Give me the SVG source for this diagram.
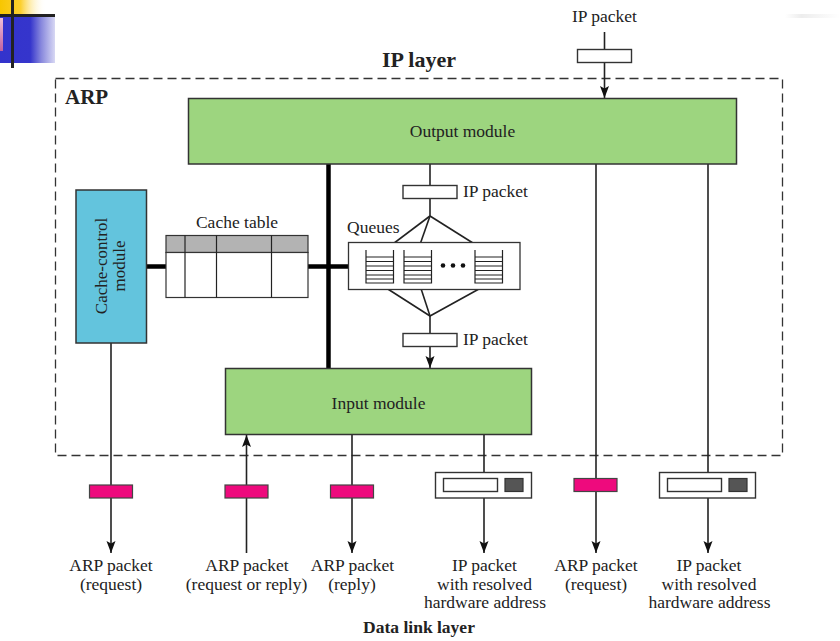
<svg xmlns="http://www.w3.org/2000/svg" width="840" height="641" viewBox="0 0 840 641">
<style>
  text { font-family: "Liberation Serif", "Times New Roman", serif; fill: #222; }
  .lbl { font-size: 17.5px; }
  .mid { text-anchor: middle; }
  .bold { font-weight: bold; }
  .module { stroke: #333; stroke-width: 1.5; }
  .green { fill: #9DD57F; }
  .blue { fill: #63C4DD; }
  .line { stroke: #222; stroke-width: 1.6; fill: none; }
  .thick { stroke: #000; stroke-width: 4.5; fill: none; }
  .pkt { fill: #fff; stroke: #333; stroke-width: 1.4; }
  .pink { fill: #EE0A7D; stroke: #444; stroke-width: 1.2; }
  .dark { fill: #555; stroke: #333; stroke-width: 1.2; }
  .q { stroke: #222; stroke-width: 1.2; fill: none; }
</style>
<defs>
  <marker id="arr" markerUnits="userSpaceOnUse" markerWidth="13" markerHeight="10" refX="12" refY="4.5" orient="auto">
    <path d="M0,0 L12,4.5 L0,9 L2.5,4.5 z" fill="#111"/>
  </marker>
  <marker id="arrs" markerUnits="userSpaceOnUse" markerWidth="11" markerHeight="9" refX="10" refY="4" orient="auto">
    <path d="M0,0 L10,4 L0,8 L2,4 z" fill="#111"/>
  </marker>
  <linearGradient id="gy" x1="0" x2="1" y1="0" y2="0">
    <stop offset="0" stop-color="#F7C600"/>
    <stop offset="0.45" stop-color="#FCD030"/>
    <stop offset="1" stop-color="#FFFFFF" stop-opacity="0"/>
  </linearGradient>
  <linearGradient id="gb" x1="0" x2="1" y1="0" y2="0">
    <stop offset="0" stop-color="#3333CC"/>
    <stop offset="0.55" stop-color="#3535CC"/>
    <stop offset="0.75" stop-color="#8888DD"/>
    <stop offset="1" stop-color="#D8D8F4"/>
  </linearGradient>
  <linearGradient id="gp" x1="0" x2="0" y1="0" y2="1">
    <stop offset="0" stop-color="#F0C0D8"/>
    <stop offset="1" stop-color="#C060A0"/>
  </linearGradient>
  <linearGradient id="gg" x1="0" x2="1" y1="0" y2="0">
    <stop offset="0" stop-color="#FFFFFF"/>
    <stop offset="0.3" stop-color="#EDEDED"/>
    <stop offset="1" stop-color="#FFFFFF"/>
  </linearGradient>
</defs>

<!-- slide decoration -->
<g id="decoration">
  <rect x="0" y="0" width="46" height="15" fill="url(#gy)"/>
  <rect x="0" y="17" width="55" height="46" fill="url(#gb)"/>
  <rect x="0" y="18" width="3" height="33" fill="url(#gp)"/>
  <line x1="0" y1="15.5" x2="55" y2="15.5" stroke="#222" stroke-width="3"/>
  <line x1="12.5" y1="0" x2="12.5" y2="68" stroke="#222" stroke-width="3"/>
  <rect x="785" y="14" width="55" height="4" fill="url(#gg)"/>
</g>

<!-- layer labels -->
<g id="labels">
  <text class="bold mid" x="419" y="67" font-size="22">IP layer</text>
  <text class="bold" x="65" y="104" font-size="21">ARP</text>
  <text class="bold mid" x="419" y="633" font-size="17.5">Data link layer</text>
</g>

<!-- ARP boundary -->
<g id="arp-boundary">
  <rect x="55.5" y="78.5" width="727" height="377" fill="none" stroke="#333" stroke-width="1.3" stroke-dasharray="9,5"/>
</g>

<!-- connectors -->
<g id="connectors">
  <line class="line" x1="604.5" y1="32" x2="604.5" y2="98" marker-end="url(#arr)"/>
  <line class="thick" x1="328.5" y1="164" x2="328.5" y2="368"/>
  <line class="thick" x1="146" y1="266.5" x2="166" y2="266.5"/>
  <line class="thick" x1="308" y1="266.5" x2="348" y2="266.5"/>
  <line class="line" x1="430" y1="164" x2="430" y2="216"/>
  <line class="line" x1="430" y1="216" x2="377" y2="256" marker-end="url(#arrs)"/>
  <line class="line" x1="430" y1="216" x2="417" y2="253" marker-end="url(#arrs)"/>
  <line class="line" x1="430" y1="216" x2="492" y2="255" marker-end="url(#arrs)"/>
  <polyline class="line" points="380,284 430,316 488,284"/>
  <line class="line" x1="419.5" y1="284" x2="430" y2="316"/>
  <line class="line" x1="430" y1="316" x2="430" y2="368" marker-end="url(#arr)"/>
  <line class="line" x1="111" y1="343" x2="111" y2="553" marker-end="url(#arr)"/>
  <line class="line" x1="246.5" y1="553" x2="246.5" y2="435" marker-end="url(#arr)"/>
  <line class="line" x1="352" y1="434" x2="352" y2="553" marker-end="url(#arr)"/>
  <line class="line" x1="484" y1="434" x2="484" y2="553" marker-end="url(#arr)"/>
  <line class="line" x1="596" y1="164" x2="596" y2="553" marker-end="url(#arr)"/>
  <line class="line" x1="708" y1="164" x2="708" y2="553" marker-end="url(#arr)"/>
</g>

<!-- packets on connectors -->
<g id="packets">
  <rect class="pkt" x="577.5" y="49.5" width="54" height="13"/>
  <rect class="pkt" x="403" y="185.5" width="54" height="13"/>
  <rect class="pkt" x="403" y="333.5" width="54" height="13"/>
  <rect class="pink" x="89.5" y="485" width="43" height="13"/>
  <rect class="pink" x="225" y="485" width="43" height="13"/>
  <rect class="pink" x="330.5" y="485" width="43" height="13"/>
  <rect class="pink" x="574" y="478.5" width="43" height="13"/>
  <g>
    <rect class="pkt" x="435.5" y="472.5" width="96" height="25.5"/>
    <rect class="pkt" x="443.5" y="478.5" width="54" height="13"/>
    <rect class="dark" x="505" y="478.5" width="18" height="13"/>
  </g>
  <g>
    <rect class="pkt" x="659.5" y="472.5" width="96" height="25.5"/>
    <rect class="pkt" x="667.5" y="478.5" width="54" height="13"/>
    <rect class="dark" x="729" y="478.5" width="18" height="13"/>
  </g>
  <text class="lbl mid" x="604.5" y="22">IP packet</text>
  <text class="lbl" x="463" y="197">IP packet</text>
  <text class="lbl" x="463" y="345">IP packet</text>
</g>

<g id="output-module">
  <rect class="module green" x="188.5" y="98.5" width="548" height="65.5"/>
  <text class="lbl mid" x="462.5" y="137">Output module</text>
</g>

<g id="input-module">
  <rect class="module green" x="225.5" y="368.5" width="306" height="66"/>
  <text class="lbl mid" x="378.5" y="409">Input module</text>
</g>

<g id="cache-control-module">
  <rect class="module blue" x="76" y="190" width="70.5" height="153"/>
  <text class="mid" font-size="17" transform="translate(111,266) rotate(-90)"><tspan x="0" y="-4">Cache-control</tspan><tspan x="0" y="14">module</tspan></text>
</g>

<g id="cache-table">
  <text class="lbl mid" x="237" y="228">Cache table</text>
  <rect x="166" y="235.5" width="142" height="17" fill="#B3B3B3" stroke="#333" stroke-width="1.2"/>
  <rect x="166" y="252.5" width="142" height="45" fill="#fff" stroke="#333" stroke-width="1.2"/>
  <line class="q" x1="185" y1="235.5" x2="185" y2="297.5"/>
  <line class="q" x1="216.5" y1="235.5" x2="216.5" y2="297.5"/>
  <line class="q" x1="271.5" y1="235.5" x2="271.5" y2="297.5"/>
</g>

<g id="queues">
  <text class="lbl" x="347" y="233">Queues</text>
  <rect x="348.5" y="242.5" width="171.5" height="47" fill="#fff" stroke="#333" stroke-width="1.3"/>
  <g class="q">
    <path d="M366,250 V283 H393.5 V250"/>
    <path d="M366,257 H393.5 M366,261.5 H393.5 M366,266 H393.5 M366,270.5 H393.5 M366,275 H393.5 M366,279 H393.5"/>
    <path d="M404,250 V283 H431.5 V250"/>
    <path d="M404,257 H431.5 M404,261.5 H431.5 M404,266 H431.5 M404,270.5 H431.5 M404,275 H431.5 M404,279 H431.5"/>
    <path d="M475,250 V283 H502.5 V250"/>
    <path d="M475,257 H502.5 M475,261.5 H502.5 M475,266 H502.5 M475,270.5 H502.5 M475,275 H502.5 M475,279 H502.5"/>
  </g>
  <circle cx="443" cy="265.5" r="2.3" fill="#111"/>
  <circle cx="453" cy="265.5" r="2.3" fill="#111"/>
  <circle cx="463" cy="265.5" r="2.3" fill="#111"/>
</g>

<g id="bottom-labels">
  <text class="lbl mid" x="111" y="571">ARP packet</text>
  <text class="lbl mid" x="111" y="590">(request)</text>
  <text class="lbl mid" x="247" y="571">ARP packet</text>
  <text class="lbl mid" x="246.5" y="590">(request or reply)</text>
  <text class="lbl mid" x="352.5" y="571">ARP packet</text>
  <text class="lbl mid" x="352" y="590">(reply)</text>
  <text class="lbl mid" x="484.5" y="571">IP packet</text>
  <text class="lbl mid" x="484.5" y="589.5">with resolved</text>
  <text class="lbl mid" x="485" y="608">hardware address</text>
  <text class="lbl mid" x="596" y="571">ARP packet</text>
  <text class="lbl mid" x="596" y="590">(request)</text>
  <text class="lbl mid" x="709" y="571">IP packet</text>
  <text class="lbl mid" x="709" y="589.5">with resolved</text>
  <text class="lbl mid" x="709.5" y="608">hardware address</text>
</g>
</svg>
